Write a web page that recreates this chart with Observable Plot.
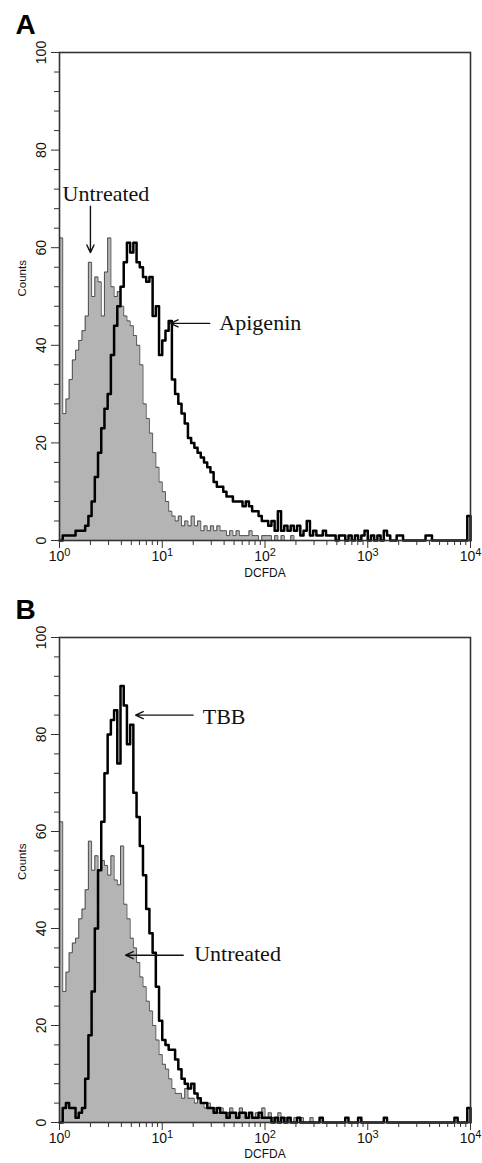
<!DOCTYPE html>
<html>
<head>
<meta charset="utf-8">
<script src="https://cdn.jsdelivr.net/npm/d3@7"></script>
<script src="https://cdn.jsdelivr.net/npm/@observablehq/plot@0.6"></script>
<style>
  html, body { margin: 0; padding: 0; background: #fff; }
  #chart { width: 482px; }
  #chart svg { display: block; }
</style>
</head>
<body>
<div id="chart"></div>
<script>
// ---- data: histogram counts per channel (32 channels per decade, 10^0 .. 10^4) ----
const channelsPerDecade = 32;

const untreatedA = [
  62, 26, 29, 33, 37, 39, 41, 43, 46, 57,
  50, 54, 53, 46, 55, 62, 52, 50, 51, 48,
  46, 45, 44, 42, 40, 36, 28, 25, 22, 18,
  15, 12, 10, 8, 6, 5, 4, 5, 3, 4,
  3, 5, 3, 4, 2, 3, 2, 3, 2, 3,
  2, 2, 1, 2, 1, 2, 1, 1, 1, 2,
  1, 1, 0, 1, 1, 1, 0, 1, 0, 1,
  0, 0, 1, 0, 0, 0, 0, 0, 0, 0,
  0, 0, 0, 0, 0, 0, 0, 0, 0, 0,
  0, 0, 0, 0, 0, 0, 0, 0, 0, 0,
  0, 0, 0, 0, 0, 0, 0, 0, 0, 0,
  0, 0, 0, 0, 0, 0, 0, 0, 0, 0,
  0, 0, 0, 0, 0, 0, 0, 0
];

const apigeninA = [
  0, 1, 1, 1, 1, 2, 2, 2, 3, 5,
  8, 13, 18, 23, 27, 30, 38, 44, 48, 52,
  57, 61, 59, 61, 57, 56, 54, 53, 54, 46,
  48, 38, 41, 43, 45, 33, 30, 28, 26, 24,
  21, 20, 19, 18, 17, 16, 15, 14, 12, 11,
  11, 10, 9, 9, 8, 8, 8, 7, 8, 7,
  6, 6, 5, 4, 4, 3, 4, 2, 6, 2,
  3, 2, 3, 2, 3, 1, 2, 4, 1, 2,
  1, 1, 2, 1, 1, 1, 0, 1, 1, 0,
  1, 0, 1, 0, 1, 2, 0, 1, 0, 1,
  0, 2, 1, 0, 0, 1, 1, 0, 0, 0,
  0, 0, 0, 0, 1, 1, 0, 0, 0, 0,
  0, 0, 0, 0, 0, 0, 0, 5
];

const untreatedB = [
  62, 27, 31, 35, 37, 38, 42, 44, 48, 58,
  52, 55, 52, 54, 53, 51, 55, 50, 49, 57,
  45, 42, 38, 36, 33, 30, 28, 25, 23, 20,
  17, 14, 12, 11, 9, 7, 6, 6, 5, 7,
  5, 5, 4, 5, 4, 3, 4, 3, 3, 2,
  3, 2, 2, 3, 2, 1, 3, 2, 1, 2,
  1, 2, 1, 3, 1, 2, 1, 1, 2, 1,
  1, 1, 0, 1, 0, 1, 0, 0, 1, 0,
  0, 0, 0, 0, 0, 0, 0, 0, 0, 0,
  0, 0, 0, 0, 0, 0, 0, 0, 0, 0,
  0, 0, 0, 0, 0, 0, 0, 0, 0, 0,
  0, 0, 0, 0, 0, 0, 0, 0, 0, 0,
  0, 0, 0, 0, 0, 0, 0, 0
];

const tbbB = [
  0, 3, 4, 3, 3, 1, 2, 3, 9, 18,
  27, 40, 52, 62, 72, 80, 83, 85, 74, 90,
  86, 78, 82, 68, 63, 57, 51, 44, 39, 35,
  28, 21, 17, 16, 15, 15, 13, 11, 9, 8,
  7, 8, 6, 5, 4, 4, 3, 3, 2, 3,
  2, 2, 1, 2, 2, 1, 2, 2, 1, 2,
  1, 1, 2, 1, 1, 1, 0, 1, 0, 1,
  0, 1, 0, 0, 1, 0, 0, 0, 0, 0,
  0, 1, 0, 0, 0, 0, 0, 0, 0, 1,
  0, 0, 0, 1, 0, 0, 0, 0, 0, 0,
  0, 1, 0, 0, 0, 0, 0, 0, 0, 0,
  0, 0, 0, 0, 0, 0, 0, 0, 0, 0,
  0, 0, 0, 1, 0, 0, 0, 3
];

// ---- axis ticks ----
const xMajorTicks = [1, 10, 100, 1000, 10000];
const xTickExponents = ["0", "1", "2", "3", "4"];
const xMinorTicks = [2,3,4,5,6,7,8,9, 20,30,40,50,60,70,80,90, 200,300,400,500,600,700,800,900, 2000,3000,4000,5000,6000,7000,8000,9000];
const yMajorTicks = [0, 20, 40, 60, 80, 100];
const yMinorTicks = [4, 8, 12, 16, 24, 28, 32, 36, 44, 48, 52, 56, 64, 68, 72, 76, 84, 88, 92, 96];

// ---- annotations (data units; x,y = centre of the label) ----
const textLabelsA = [
  {label: "Untreated", x: 2.83, y: 71},
  {label: "Apigenin", x: 90, y: 44.5}
];
const arrowsA = [
  {x1: 2.0, y1: 68.5, x2: 2.0, y2: 59},
  {x1: 29, y1: 44.5, x2: 12, y2: 44.5}
];
const textLabelsB = [
  {label: "TBB", x: 40, y: 83.7},
  {label: "Untreated", x: 54, y: 34.8}
];
const arrowsB = [
  {x1: 20, y1: 84, x2: 5.5, y2: 84},
  {x1: 16, y1: 34.5, x2: 4.4, y2: 34.5}
];

function toRows(counts) {
  const rows = counts.map((c, i) => ({x: Math.pow(10, i / channelsPerDecade), c}));
  rows.push({x: 10000, c: 0});
  return rows;
}

const sans = "'Liberation Sans', Arial, Helvetica, sans-serif";
const serif = "'Liberation Serif', 'Times New Roman', Times, serif";

function panel({letter, gray, black, labels, arrows, height, marginTop, marginBottom, xLabelDy}) {
  const grayRows = toRows(gray);
  const blackRows = toRows(black);
  const svg = Plot.plot({
    width: 482,
    height,
    marginTop,
    marginBottom,
    marginLeft: 59,
    marginRight: 12,
    style: {fontFamily: sans, background: "#fff", color: "#111", overflow: "visible"},
    x: {type: "log", domain: [1, 10000]},
    y: {domain: [0, 100]},
    marks: [
      Plot.areaY(grayRows, {x: "x", y: "c", curve: "step-after", fill: "#b4b4b4"}),
      Plot.lineY(grayRows, {x: "x", y: "c", curve: "step-after", stroke: "#444", strokeWidth: 0.9}),
      Plot.lineY(blackRows, {x: "x", y: "c", curve: "step-after", stroke: "#000", strokeWidth: 2.5}),
      Plot.frame({stroke: "#333", strokeWidth: 1.6}),
      Plot.axisX({ticks: xMinorTicks, tickSize: 5, fill: null, label: null, stroke: "#333"}),
      Plot.axisX({ticks: xMajorTicks, tickSize: 8, tickPadding: 3, fontSize: 14, label: null, stroke: "#333",
        tickFormat: d => xTickExponents[xMajorTicks.indexOf(d)]}),
      Plot.axisY({ticks: yMinorTicks, tickSize: 5, fill: null, label: null, stroke: "#333"}),
      Plot.axisY({ticks: yMajorTicks, tickSize: 8, tickPadding: 6, tickRotate: -90, fontSize: 14, label: null, stroke: "#333"}),
      Plot.text(["Counts"], {text: d => d, frameAnchor: "left", dx: -37, rotate: -90, fontSize: 11.5, fill: "#111"}),
      Plot.text(["DCFDA"], {text: d => d, frameAnchor: "bottom", dy: xLabelDy, fontSize: 12, fill: "#111"}),
      Plot.text([letter], {text: d => d, frameAnchor: "top-left", dx: -44, dy: -19, lineAnchor: "bottom", textAnchor: "start", fontSize: 28, fontWeight: "bold", fill: "#000"}),
      Plot.arrow(arrows, {x1: "x1", y1: "y1", x2: "x2", y2: "y2", stroke: "#111", strokeWidth: 1.4, headLength: 9, headAngle: 50}),
      Plot.text(labels, {x: "x", y: "y", text: "label", textAnchor: "middle", fontFamily: serif, fontSize: 22, fill: "#111"})
    ]
  });
  const root = d3.select(svg);
  const tickLabelGroups = root.selectAll("g").filter(function () {
    return (this.getAttribute("aria-label") || "").includes("tick label");
  });
  tickLabelGroups.selectAll("text").attr("font-size", 14).style("font-size", "14px");
  // superscript exponents on the x tick labels: 10^k
  tickLabelGroups.filter(function () {
    return (this.getAttribute("aria-label") || "").startsWith("x");
  }).selectAll("text").each(function () {
    const t = d3.select(this);
    const exp = t.text();
    if (!exp) return;
    t.text("10");
    t.append("tspan").attr("dy", "-0.5em").style("font-size", "11px").text(exp);
  });
  return svg;
}

const chart = document.getElementById("chart");
chart.append(panel({
  letter: "A", gray: untreatedA, black: apigeninA, labels: textLabelsA, arrows: arrowsA,
  height: 590, marginTop: 52, marginBottom: 50, xLabelDy: 36
}));
chart.append(panel({
  letter: "B", gray: untreatedB, black: tbbB, labels: textLabelsB, arrows: arrowsB,
  height: 573, marginTop: 47, marginBottom: 41, xLabelDy: 35
}));
</script>
</body>
</html>
